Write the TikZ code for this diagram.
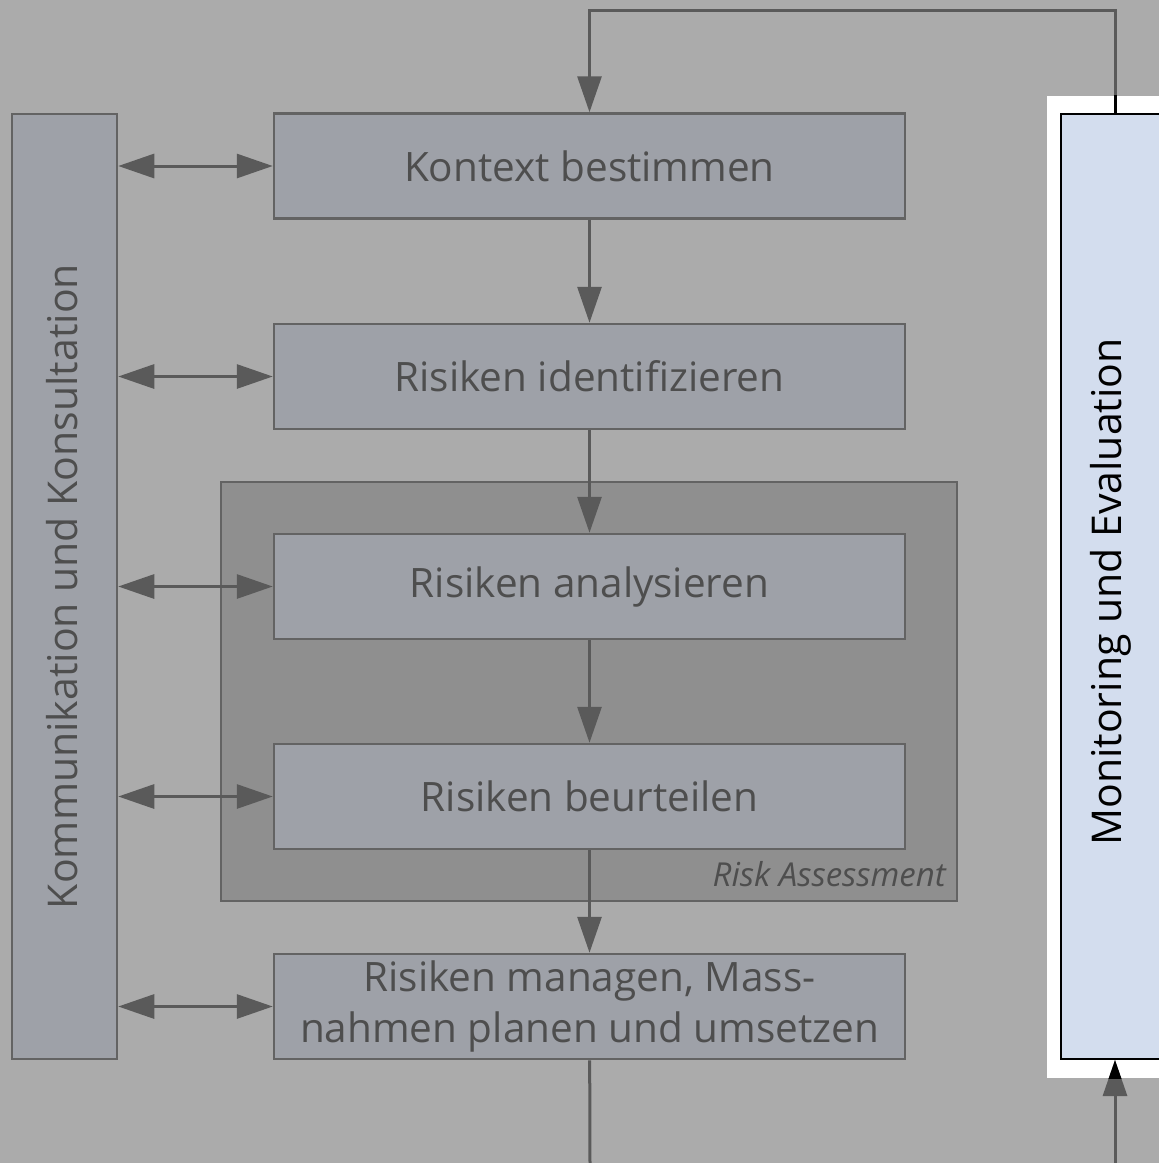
\documentclass[tikz,border=0pt]{standalone}
\usepackage{fontspec}
\setmainfont{Open Sans}
\usetikzlibrary{arrows.meta}
\definecolor{bg}{HTML}{ABABAB}
\definecolor{boxfill}{HTML}{9EA1A8}
\definecolor{boxline}{HTML}{636363}
\definecolor{rafill}{HTML}{8F8F8F}
\definecolor{txt}{HTML}{4E4E4E}
\definecolor{monfill}{HTML}{D3DDEE}
\definecolor{conn}{HTML}{5A5A5A}
\tikzset{
  stepbox/.style={draw=boxline, fill=boxfill, line width=2.5pt, minimum width=631pt, minimum height=105pt,
    inner sep=0pt, text=txt, font=\fontsize{40.5}{51}\selectfont, align=center},
  bar/.style={draw=boxline, fill=boxfill, line width=2.5pt, minimum width=105pt, minimum height=945pt, inner sep=0pt},
  conline/.style={draw=conn, line width=3pt},
  tip/.style={-{Triangle[length=36pt,width=24pt]}},
  dtip/.style={{Triangle[length=36pt,width=24pt]}-{Triangle[length=36pt,width=24pt]}},
}
\begin{document}
\begin{tikzpicture}[x=1pt,y=-1pt]
\useasboundingbox (0,0) rectangle (1159,1163);
\fill[bg] (0,0) rectangle (1159,1163);
% risk assessment group
\node[draw=boxline, fill=rafill, line width=2.5pt, minimum width=736pt, minimum height=419pt, inner sep=0pt] (ra) at (589,691.5) {};
\node[anchor=base east, inner sep=0pt, text=txt, font=\fontsize{33}{40}\selectfont\itshape] (ralabel) at (946,886) {Risk Assessment};
% left bar
\node[bar] (kk) at (64.5,586.5) {};
\node[rotate=90, text=txt, font=\fontsize{41}{48}\selectfont] (kktext) at (62,586.5) {Kommunikation und Konsultation};
% steps
\node[stepbox] (k) at (589.5,166) {Kontext bestimmen};
\node[stepbox] (r1) at (589.5,376.5) {Risiken identifizieren};
\node[stepbox] (r2) at (589.5,586.5) {Risiken analysieren};
\node[stepbox] (r3) at (589.5,796.5) {Risiken beurteilen};
\node[stepbox] (r4) at (589.5,1006.5) {Risiken managen, Mass-\\nahmen planen und umsetzen};
% monitoring
\node[fill=white, minimum width=140pt, minimum height=982pt, inner sep=0pt] (frame) at (1117,587) {};
\node[draw=black, fill=monfill, line width=2pt, minimum width=105pt, minimum height=945pt, inner sep=0pt] (mon) at (1113.5,586.5) {};
\node[rotate=90, text=black, font=\fontsize{41}{48}\selectfont] (montext) at (1111,592) {Monitoring und Evaluation};
% connectors
\coordinate (top) at (0,10);
\coordinate (bot) at (590,1163);
\coordinate (bot2) at (1115,1163);
\foreach \n in {k,r1,r2,r3,r4}{
  \draw[conline,dtip] (kk.east |- \n) -- (\n.west);
}
\draw[conline,tip] (k) -- (r1);
\draw[conline,tip] (r1) -- (r2);
\draw[conline,tip] (r2) -- (r3);
\draw[conline,tip] (r3) -- (r4);
\draw[conline] (r4) -- (bot);
\draw[conline,tip] (mon.north -| bot2) |- (k.north |- top) -- (k.north);
\draw[conline,tip] (bot2) -- (mon.south -| bot2);
\begin{scope}
\clip (frame.north west) rectangle (frame.south east);
\draw[line width=3pt, draw=black] (mon.north -| bot2) -- ++(0,-30);
\draw[line width=3pt, draw=black, tip] (bot2) -- (mon.south -| bot2);
\end{scope}
\end{tikzpicture}
\end{document}
